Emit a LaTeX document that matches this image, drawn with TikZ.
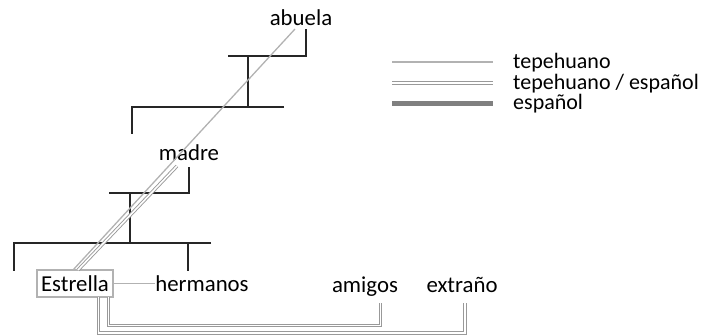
\documentclass[tikz,border=0pt]{standalone}
\usepackage{fontspec}
\setmainfont{Carlito}
\usetikzlibrary{calc}
\begin{document}
\begin{tikzpicture}[x=1pt,y=-1pt,
  lbl/.style={font=\fontsize{22.8}{27}\selectfont, inner sep=0pt, anchor=base},
  leg/.style={font=\fontsize{22}{26}\selectfont, inner sep=0pt, anchor=base west, text height=12pt, text depth=2pt},
  kin/.style={draw=black!85, line width=1.7pt},
  tep/.style={draw=black!30, line width=1.3pt},
  dbl/.style={draw=black!40, double=white, double distance=1.6pt, line width=0.9pt},
  esp/.style={draw=black!50, line width=5pt}]
\useasboundingbox (0,0) rectangle (711,335);
% people
\node[lbl] (abuela) at (301,25) {abuela};
\node[lbl] (madre) at (189,160) {madre};
\node[font=\fontsize{22.8}{27}\selectfont, draw=black!30, line width=1.3pt,
  inner sep=0pt, minimum width=76pt, minimum height=27pt,
  text height=16pt, text depth=0pt] (estrella) at (75,283.5) {Estrella};
\node[lbl] (hermanos) at (202,291.5) {hermanos};
\node[lbl] (amigos) at (365,292) {amigos};
\node[lbl] (extrano) at (462,292) {extraño};
% kinship lines
\draw[kin] (306,29) -- (306,56) -- (228,56);
\draw[kin] (248,56) -- (248,107);
\draw[kin] (284,107) -- (132,107) -- (132,134);
\draw[kin] (189,167) -- (189,193) -- (109,193);
\draw[kin] (130,193) -- (130,243);
\draw[kin] (211,243) -- (14,243) -- (14,271);
\draw[kin] (188,243) -- (188,271);
% language lines
\coordinate (abuelaL) at (295,29);
\coordinate (madreL) at (177,166);
\coordinate (estA) at (73,270);
\coordinate (estM) at (78,270);
\draw[tep] (abuelaL) -- (estA);
\draw[dbl] (madreL) -- (estM);
\draw[tep] (estrella.east) -- (hermanos.west |- estrella.east);
\coordinate (e1) at (108.5,297);
\coordinate (e2) at (98.5,297);
\coordinate (a1) at (380.5,303);
\coordinate (x1) at (465,303);
\draw[dbl] (e1) -- (108.5,325.5) -- (380.5,325.5) -- (a1);
\draw[dbl] (e2) -- (98.5,333) -- (465,333) -- (x1);
% legend
\coordinate (l1a) at (392,62); \coordinate (l1b) at (493,62);
\coordinate (l2a) at (392,83); \coordinate (l2b) at (493,83);
\coordinate (l3a) at (392,103); \coordinate (l3b) at (493,103);
\draw[tep] (l1a) -- (l1b);
\draw[dbl] (l2a) -- (l2b);
\draw[esp] (l3a) -- (l3b);
\node[leg] (t1) at (513,68) {tepehuano};
\node[leg] (t2) at (513,89) {tepehuano / español};
\node[leg] (t3) at (513,109) {español};
\end{tikzpicture}
\end{document}
